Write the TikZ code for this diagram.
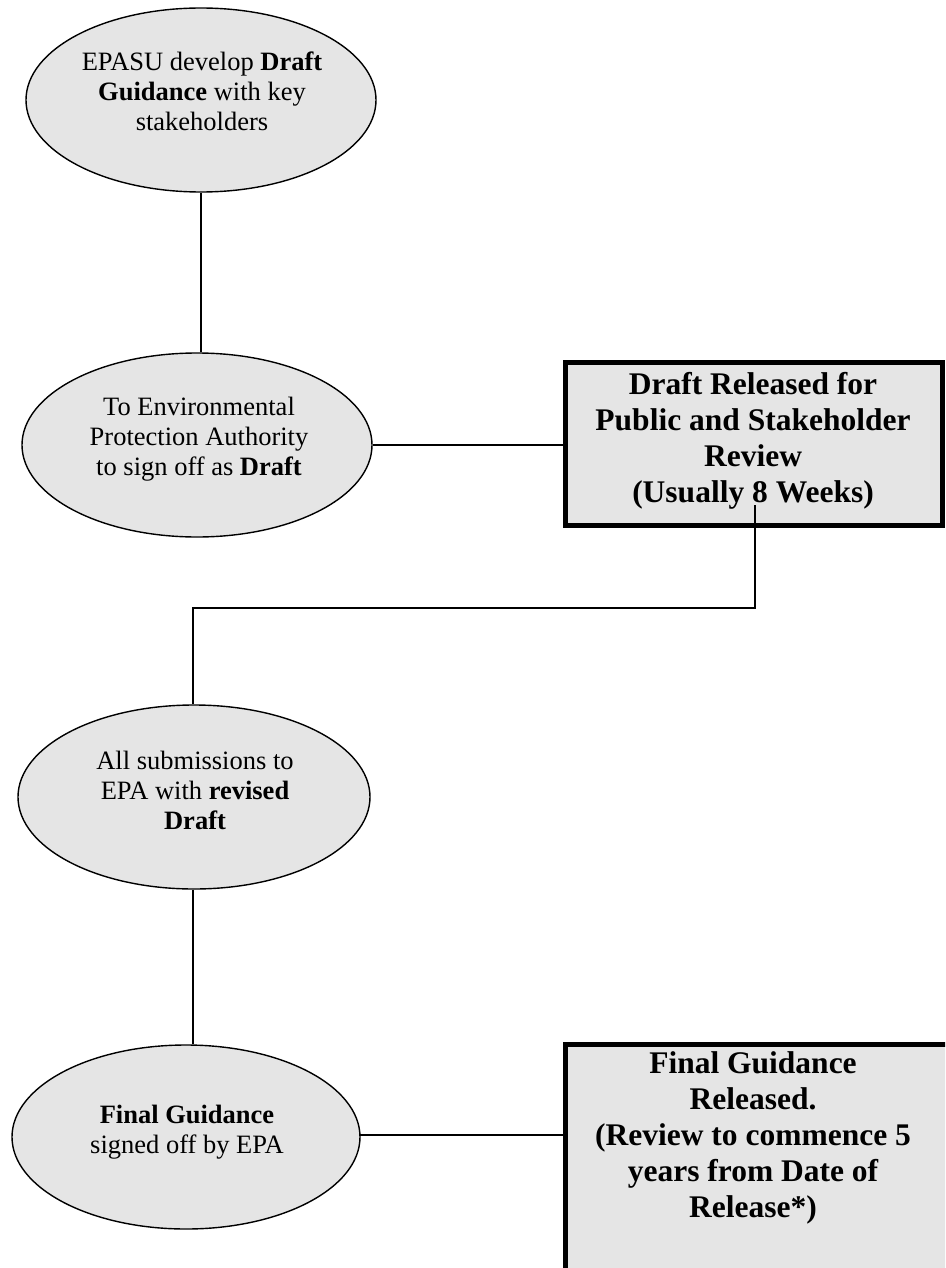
\documentclass[tikz,border=0pt]{standalone}
\usepackage{fontspec}
\setmainfont{Liberation Serif}
\usetikzlibrary{shapes.geometric,calc}
\tikzset{
  ell/.style={ellipse, draw=black, line width=1.4pt, fill=black!10, inner sep=0pt},
  etext/.style={align=center, inner sep=0pt, font=\fontsize{26.5}{30}\selectfont},
  bigbox/.style={rectangle, draw=black, line width=5pt, fill=black!10, inner sep=0pt},
  openbox/.style={rectangle, fill=black!10, inner sep=0pt},
  boxedge/.style={draw=black, line width=5pt},
  btext/.style={align=center, inner sep=0pt, font=\fontsize{31.5}{36}\selectfont\bfseries},
  conn/.style={draw=black, line width=1.7pt}
}
\begin{document}
\begin{tikzpicture}[x=1pt,y=-1pt]
\useasboundingbox (0,0) rectangle (945,1268);
\begin{scope}
\clip (0,0) rectangle (945,1268);
\fill[white] (0,0) rectangle (945,1268);
% ellipses
\node[ell, minimum width=350pt, minimum height=184pt] (e1) at (201,100) {};
\node[ell, minimum width=350pt, minimum height=184pt] (e2) at (197,445) {};
\node[ell, minimum width=352pt, minimum height=184pt] (e3) at (194,797) {};
\node[ell, minimum width=348pt, minimum height=184pt] (e4) at (186,1137) {};
\node[etext] (t1) at (202,91) {EPASU develop \textbf{Draft}\\\textbf{Guidance} with key\\stakeholders};
\node[etext] (t2) at (199,439) {To Environmental\\Protection Authority\\to sign off as \textbf{Draft}};
\node[etext] (t3) at (195,790) {All submissions to\\EPA with \textbf{revised}\\\textbf{Draft}};
\node[etext] (t4) at (187,1132) {\textbf{Final Guidance}\\signed off by EPA};
% boxes
\node[bigbox, minimum width=377pt, minimum height=163pt] (b1) at (753.5,443.5) {};
\node[btext] (bt1) at (753,441) {Draft Released for\\Public and Stakeholder\\Review\\(Usually 8 Weeks)};
\node[openbox, minimum width=390pt, minimum height=240pt] (b2) at (760.5,1165) {};
\draw[boxedge] (b2.south west) -- (b2.north west) -- (b2.north east);
\node[btext, anchor=north] (bt2) at (753,1051) {Final Guidance\\Released.\\(Review to commence 5\\years from Date of\\Release*)};
% connectors
\draw[conn] (e1.south) -- (e1.south |- e2.north);
\draw[conn] (e2.east) -- (e2.east -| b1.west);
\coordinate (b1tail) at (755,505);
\coordinate (turn) at (193,608);
\draw[conn] (b1tail) |- (turn) -- (turn |- e3.north);
\draw[conn] (e3.south -| turn) -- (turn |- e4.north);
\coordinate (c4) at (360,1135);
\draw[conn] (c4) -- (c4 -| b2.west);
\end{scope}
\end{tikzpicture}
\end{document}
